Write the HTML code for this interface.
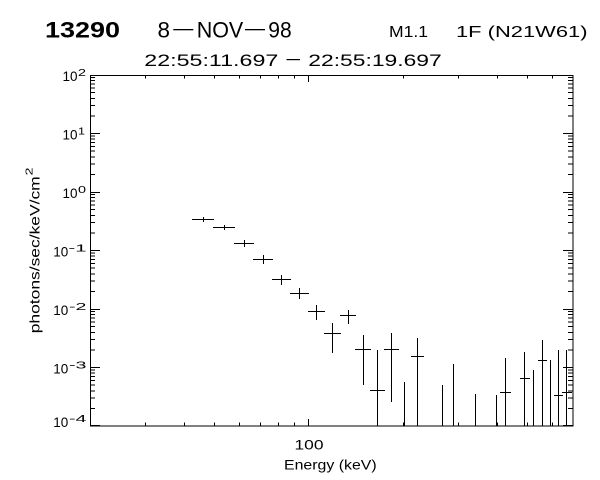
<!DOCTYPE html>
<html>
<head>
<meta charset="utf-8">
<style>
html,body{margin:0;padding:0;background:#fff;}
svg{display:block;}
text{font-family:"Liberation Sans",sans-serif;fill:#000;}
</style>
</head>
<body>
<svg width="600" height="480" viewBox="0 0 600 480" xmlns="http://www.w3.org/2000/svg">
<rect x="0" y="0" width="600" height="480" fill="#fff"/>

<!-- Titles -->
<text x="45" y="37.5" font-size="22" font-weight="bold" textLength="75" lengthAdjust="spacingAndGlyphs">13290</text>
<text x="157.5" y="37.5" font-size="22" textLength="12.5" lengthAdjust="spacingAndGlyphs">8</text>
<rect x="173.3" y="29" width="20" height="1.3" fill="#000"/>
<text x="196.7" y="37.5" font-size="22" textLength="46.6" lengthAdjust="spacingAndGlyphs">NOV</text>
<rect x="245" y="29" width="20" height="1.3" fill="#000"/>
<text x="268.3" y="37.5" font-size="22" textLength="23.4" lengthAdjust="spacingAndGlyphs">98</text>
<text x="389" y="37" font-size="16" textLength="39" lengthAdjust="spacingAndGlyphs">M1.1</text>
<text x="456" y="37" font-size="16" textLength="131.5" lengthAdjust="spacingAndGlyphs">1F (N21W61)</text>
<text x="144.3" y="66" font-size="17" textLength="134" lengthAdjust="spacingAndGlyphs">22:55:11.697</text>
<rect x="286.5" y="59" width="13.5" height="1.2" fill="#000"/>
<text x="308.3" y="66" font-size="17" textLength="133.4" lengthAdjust="spacingAndGlyphs">22:55:19.697</text>

<!-- Axes box and ticks -->
<g stroke="#000" stroke-width="1" fill="none" shape-rendering="crispEdges">
<rect x="90.5" y="75.5" width="482.5" height="350.5"/>
<path d="M90 75.5H100 M90 133.5H100 M90 192.5H100 M90 250.5H100 M90 309.5H100 M90 367.5H100 M90 425.5H100"/>
<path d="M573 75.5H563 M573 133.5H563 M573 192.5H563 M573 250.5H563 M573 309.5H563 M573 367.5H563 M573 425.5H563"/>
<path d="
M90 408.4H95 M90 398.1H95 M90 390.8H95 M90 385.1H95 M90 380.5H95 M90 376.6H95 M90 373.2H95 M90 370.2H95
M90 349.9H95 M90 339.6H95 M90 332.3H95 M90 326.6H95 M90 322.0H95 M90 318.1H95 M90 314.7H95 M90 311.7H95
M90 291.4H95 M90 281.1H95 M90 273.8H95 M90 268.1H95 M90 263.5H95 M90 259.6H95 M90 256.2H95 M90 253.2H95
M90 232.9H95 M90 222.6H95 M90 215.3H95 M90 209.6H95 M90 205.0H95 M90 201.1H95 M90 197.7H95 M90 194.7H95
M90 174.4H95 M90 164.1H95 M90 156.8H95 M90 151.1H95 M90 146.5H95 M90 142.6H95 M90 139.2H95 M90 136.2H95
M90 115.9H95 M90 105.6H95 M90 98.3H95 M90 92.6H95 M90 88.0H95 M90 84.1H95 M90 80.7H95 M90 77.7H95"/>
<path d="
M573 408.4H568 M573 398.1H568 M573 390.8H568 M573 385.1H568 M573 380.5H568 M573 376.6H568 M573 373.2H568 M573 370.2H568
M573 349.9H568 M573 339.6H568 M573 332.3H568 M573 326.6H568 M573 322.0H568 M573 318.1H568 M573 314.7H568 M573 311.7H568
M573 291.4H568 M573 281.1H568 M573 273.8H568 M573 268.1H568 M573 263.5H568 M573 259.6H568 M573 256.2H568 M573 253.2H568
M573 232.9H568 M573 222.6H568 M573 215.3H568 M573 209.6H568 M573 205.0H568 M573 201.1H568 M573 197.7H568 M573 194.7H568
M573 174.4H568 M573 164.1H568 M573 156.8H568 M573 151.1H568 M573 146.5H568 M573 142.6H568 M573 139.2H568 M573 136.2H568
M573 115.9H568 M573 105.6H568 M573 98.3H568 M573 92.6H568 M573 88.0H568 M573 84.1H568 M573 80.7H568 M573 77.7H568"/>
<path d="M145.5 426V422.5 M184.5 426V422.5 M214.5 426V422.5 M239.5 426V422.5 M260.5 426V422.5 M278.5 426V422.5 M294.5 426V422.5
M308.5 426V419
M403.5 426V422.5 M458.5 426V422.5 M497.5 426V422.5 M527.5 426V422.5 M552.5 426V422.5"/>
<path d="M145.5 75V78.5 M184.5 75V78.5 M214.5 75V78.5 M239.5 75V78.5 M260.5 75V78.5 M278.5 75V78.5 M294.5 75V78.5
M308.5 75V82
M403.5 75V78.5 M458.5 75V78.5 M497.5 75V78.5 M527.5 75V78.5 M552.5 75V78.5"/>
</g>

<!-- Y tick labels -->
<g font-size="14">
<text x="62.5" y="81" textLength="15" lengthAdjust="spacingAndGlyphs">10</text>
<text x="62.5" y="139.5" textLength="15" lengthAdjust="spacingAndGlyphs">10</text>
<text x="62.5" y="198" textLength="15" lengthAdjust="spacingAndGlyphs">10</text>
<text x="53.3" y="256.5" textLength="15" lengthAdjust="spacingAndGlyphs">10</text>
<text x="53.3" y="315" textLength="15" lengthAdjust="spacingAndGlyphs">10</text>
<text x="53.3" y="373.5" textLength="15" lengthAdjust="spacingAndGlyphs">10</text>
<text x="53.3" y="427" textLength="15" lengthAdjust="spacingAndGlyphs">10</text>
</g>
<g font-size="10">
<text x="78" y="76" textLength="8" lengthAdjust="spacingAndGlyphs">2</text>
<text x="78" y="134.5" textLength="7" lengthAdjust="spacingAndGlyphs">1</text>
<text x="78" y="193" textLength="8" lengthAdjust="spacingAndGlyphs">0</text>
<text x="68.5" y="251.5" textLength="18" lengthAdjust="spacingAndGlyphs">-1</text>
<text x="69" y="310" textLength="17.5" lengthAdjust="spacingAndGlyphs">-2</text>
<text x="69" y="368.5" textLength="17.5" lengthAdjust="spacingAndGlyphs">-3</text>
<text x="69" y="422" textLength="17.5" lengthAdjust="spacingAndGlyphs">-4</text>
</g>

<!-- X labels -->
<text x="294.5" y="449.5" font-size="14" textLength="29" lengthAdjust="spacingAndGlyphs">100</text>
<text x="284" y="469.5" font-size="14" textLength="92.7" lengthAdjust="spacingAndGlyphs">Energy (keV)</text>

<!-- Y axis title -->
<text transform="translate(39.5,333.3) rotate(-90)" x="0" y="0" font-size="14" textLength="157" lengthAdjust="spacingAndGlyphs">photons/sec/keV/cm</text>
<text transform="translate(32.5,175.5) rotate(-90)" x="0" y="0" font-size="10" textLength="8" lengthAdjust="spacingAndGlyphs">2</text>

<!-- Data -->
<path stroke="#000" stroke-width="1" fill="none" shape-rendering="crispEdges" d="
M192 219.5H214 M203.5 217V222
M213 227.5H235 M224.5 225V230
M234 243.5H254 M244.5 240V247
M253 259.5H273 M263.5 255V264
M272 279.5H291 M281.5 275V285
M290 293.5H309 M299.5 288V299
M308 311.5H325 M316.5 305V320
M340 315.5H356 M348.5 310V324
M324 333.5H341 M332.5 323V353
M355 349.5H371 M363.5 335V385
M370 390.5H385 M377.5 350V426
M384 349.5H399 M391.5 333V402
M404.5 382V426
M411 356.5H424 M417.5 338V426
M442.5 385V426
M453.5 364V426
M475.5 394V426
M496.5 395V426
M500 392.5H511 M505.5 358V426
M520 378.5H530 M524.5 352V426
M533.5 370V426
M538 360.5H547 M542.5 340V426
M550.5 360V426
M554 395.5H563 M558.5 350V426
M562 392.5H572 M566.5 350V426
"/>
</svg>
</body>
</html>
